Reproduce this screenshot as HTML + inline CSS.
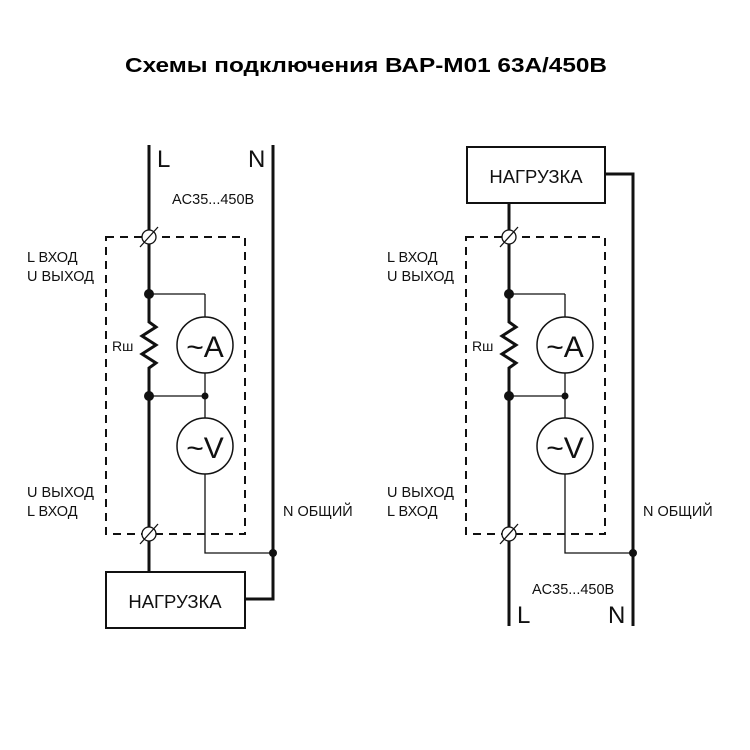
<!DOCTYPE html>
<html><head><meta charset="utf-8"><style>html,body{margin:0;padding:0;background:#fff}svg{display:block}</style></head><body>
<svg width="750" height="750" viewBox="0 0 750 750" xmlns="http://www.w3.org/2000/svg" font-family="Liberation Sans, DejaVu Sans, sans-serif">
<text x="366" y="72" text-anchor="middle" font-weight="bold" font-size="20" textLength="482" lengthAdjust="spacingAndGlyphs">Схемы подключения ВАР-М01 63А/450В</text>
<defs>
<g id="core" fill="none" stroke="#111">
  <rect x="106" y="237" width="139" height="297" stroke-width="2" stroke-dasharray="8,6"/>
  <circle cx="149" cy="237" r="7" stroke-width="1.3" fill="#fff"/>
  <line x1="140" y1="247" x2="158" y2="227" stroke-width="1.3"/>
  <circle cx="149" cy="534" r="7" stroke-width="1.3" fill="#fff"/>
  <line x1="140" y1="544" x2="158" y2="524" stroke-width="1.3"/>
  <line x1="149" y1="294" x2="205" y2="294" stroke-width="1.3"/>
  <line x1="205" y1="294" x2="205" y2="317" stroke-width="1.3"/>
  <circle cx="205" cy="345" r="28" stroke-width="1.5" fill="#fff"/>
  <line x1="205" y1="373" x2="205" y2="418" stroke-width="1.3"/>
  <line x1="149" y1="396" x2="205" y2="396" stroke-width="1.3"/>
  <circle cx="205" cy="446" r="28" stroke-width="1.5" fill="#fff"/>
  <polyline points="205,474 205,553 273,553" stroke-width="1.3"/>
  <circle cx="149" cy="294" r="5" fill="#111" stroke="none"/>
  <circle cx="149" cy="396" r="5" fill="#111" stroke="none"/>
  <circle cx="205" cy="396" r="3.5" fill="#111" stroke="none"/>
  <circle cx="273" cy="553" r="4" fill="#111" stroke="none"/>
  <text x="205" y="357" text-anchor="middle" font-size="30" fill="#111" stroke="none">~A</text>
  <text x="205" y="458" text-anchor="middle" font-size="30" fill="#111" stroke="none">~V</text>
  <text x="112" y="351" font-size="14" fill="#111" stroke="none">Rш</text>
</g>
</defs>
<!-- left -->
<g fill="none" stroke="#111">
  <polyline points="149,145 149,322 156,327 142,336 156,345 142,354 156,363 149,368 149,572" stroke-width="3"/>
  <polyline points="273,145 273,599 245,599" stroke-width="3"/>
  <rect x="106" y="572" width="139" height="56" stroke-width="2" fill="#fff"/>
</g>
<use href="#core"/>
<g fill="#111" font-size="14.5">
  <text x="157" y="167" font-size="24">L</text>
  <text x="248" y="167" font-size="24">N</text>
  <text x="172" y="204">AC35...450B</text>
  <text x="27" y="262">L ВХОД</text>
  <text x="27" y="281">U ВЫХОД</text>
  <text x="27" y="497">U ВЫХОД</text>
  <text x="27" y="516">L ВХОД</text>
  <text x="283" y="516">N ОБЩИЙ</text>
  <text x="175" y="608" text-anchor="middle" font-size="18.5">НАГРУЗКА</text>
</g>
<!-- right -->
<g transform="translate(360,0)">
<g fill="none" stroke="#111">
  <polyline points="149,203 149,322 156,327 142,336 156,345 142,354 156,363 149,368 149,626" stroke-width="3"/>
  <polyline points="245,174 273,174 273,626" stroke-width="3"/>
  <rect x="107" y="147" width="138" height="56" stroke-width="2" fill="#fff"/>
</g>
<use href="#core"/>
<g fill="#111" font-size="14.5">
  <text x="157" y="623" font-size="24">L</text>
  <text x="248" y="623" font-size="24">N</text>
  <text x="172" y="594">AC35...450B</text>
  <text x="27" y="262">L ВХОД</text>
  <text x="27" y="281">U ВЫХОД</text>
  <text x="27" y="497">U ВЫХОД</text>
  <text x="27" y="516">L ВХОД</text>
  <text x="283" y="516">N ОБЩИЙ</text>
  <text x="176" y="183" text-anchor="middle" font-size="18.5">НАГРУЗКА</text>
</g>
</g>
</svg>
</body></html>
